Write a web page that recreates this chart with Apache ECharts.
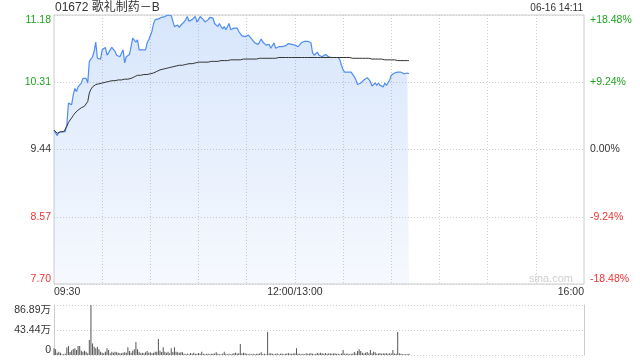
<!DOCTYPE html>
<html><head><meta charset="utf-8">
<script src="https://cdn.jsdelivr.net/npm/echarts@6/dist/echarts.min.js"></script>
<style>html,body{margin:0;padding:0;background:#fff}#c{width:640px;height:360px}</style>
</head><body><div id="c"></div>
<script>
const stockTitle = '01672 歌礼制药－B';
const stampText = '06-16 14:11';
const prevClose = 9.44;
const priceTicks = ['7.70', '8.57', '9.44', '10.31', '11.18'];
const pctTicks = ['-18.48%', '-9.24%', '0.00%', '+9.24%', '+18.48%'];
const volTicks = ['0', '43.44万', '86.89万'];
const xTickLabels = {0: '09:30', 150: '12:00/13:00', 330: '16:00'};

const price = [
9.69, 9.67, 9.62, 9.66, 9.67, 9.67, 9.68, 9.67, 9.76, 10.04,
10.06, 10.02, 10.15, 10.23, 10.19, 10.25, 10.27, 10.30, 10.36, 10.38,
10.36, 10.30, 10.58, 10.60, 10.64, 10.71, 10.83, 10.62, 10.60, 10.61,
10.73, 10.75, 10.76, 10.66, 10.69, 10.73, 10.76, 10.75, 10.71, 10.66,
10.64, 10.64, 10.62, 10.73, 10.56, 10.64, 10.65, 10.67, 10.77, 10.88,
10.86, 10.83, 10.86, 10.73, 10.75, 10.73, 10.75, 10.73, 10.82, 10.86,
10.88, 10.97, 11.07, 11.12, 11.13, 11.13, 11.14, 11.15, 11.16, 11.16,
11.17, 11.18, 11.18, 11.17, 11.10,
11.03, 11.01, 11.05, 11.02, 11.05, 11.07, 11.09, 11.12, 11.16, 11.10,
11.12, 11.12, 11.13, 11.16, 11.09, 11.12, 11.16, 11.14, 11.12, 11.09,
11.07, 11.12, 11.15, 11.16, 11.14, 11.07, 11.05, 11.03, 11.07, 11.03,
11.00, 11.03, 10.99, 11.01, 11.07, 10.99, 10.97, 11.01, 10.99, 11.01,
10.97, 10.94, 10.91, 10.90, 10.90, 10.89, 10.92, 10.90, 10.87, 10.86,
10.82, 10.80, 10.80, 10.83, 10.87, 10.83, 10.82, 10.79, 10.79, 10.80,
10.75, 10.77, 10.82, 10.75, 10.76, 10.77, 10.77, 10.77, 10.78, 10.78,
10.79, 10.81, 10.81, 10.80, 10.79,
10.79, 10.77, 10.77, 10.75, 10.82, 10.82, 10.84, 10.82, 10.84, 10.86,
10.82, 10.69, 10.66, 10.64, 10.70, 10.66, 10.64, 10.64, 10.65, 10.67,
10.65, 10.64, 10.63, 10.63, 10.63, 10.63, 10.63, 10.63, 10.60, 10.53,
10.47, 10.44, 10.44, 10.44, 10.44, 10.44, 10.43, 10.38, 10.34, 10.28,
10.27, 10.30, 10.32, 10.34, 10.35, 10.37, 10.38, 10.32, 10.26, 10.25,
10.30, 10.27, 10.30, 10.27, 10.28, 10.25, 10.30, 10.27, 10.30, 10.34,
10.40, 10.40, 10.43, 10.43, 10.44, 10.43, 10.44, 10.43, 10.42, 10.42,
10.43, 10.42
];

const avgPrice = [
9.69, 9.67, 9.65, 9.66, 9.67, 9.67, 9.67, 9.68, 9.74, 9.79,
9.82, 9.85, 9.88, 9.91, 9.93, 9.95, 9.96, 9.98, 9.99, 10.00,
10.02, 10.06,
10.17, 10.22, 10.25, 10.27, 10.28, 10.29, 10.29, 10.30, 10.30, 10.31,
10.31, 10.32, 10.32, 10.32, 10.33, 10.33, 10.33, 10.33, 10.34, 10.34,
10.34, 10.35, 10.35, 10.35, 10.35, 10.36, 10.36, 10.37, 10.38, 10.39,
10.40, 10.40, 10.40, 10.40, 10.41, 10.41, 10.41, 10.41, 10.42, 10.42,
10.43, 10.43, 10.45, 10.46, 10.47, 10.47, 10.48, 10.49, 10.49, 10.50,
10.50, 10.51, 10.51,
10.51, 10.52, 10.52, 10.53, 10.53, 10.53, 10.54, 10.54, 10.54, 10.55,
10.55, 10.55, 10.56, 10.56, 10.56, 10.57,
10.57, 10.57, 10.57, 10.57, 10.57, 10.57,
10.58, 10.58, 10.58, 10.58, 10.58, 10.58, 10.58,
10.59, 10.59, 10.59, 10.59, 10.59, 10.59,
10.60, 10.60, 10.60, 10.60, 10.60, 10.60, 10.60,
10.61, 10.61, 10.61, 10.61, 10.61, 10.61, 10.61, 10.61, 10.61, 10.61,
10.62, 10.62, 10.62, 10.62, 10.62, 10.62, 10.62, 10.62, 10.62, 10.62, 10.62, 10.62,
10.63, 10.63, 10.63, 10.63, 10.63, 10.63, 10.63, 10.63, 10.63, 10.63, 10.63,
10.63, 10.63, 10.63, 10.63, 10.63, 10.63, 10.63, 10.63, 10.63, 10.63,
10.63, 10.63, 10.63, 10.63, 10.63, 10.63, 10.63, 10.63, 10.63, 10.63,
10.63, 10.63, 10.63, 10.63, 10.63, 10.63, 10.63, 10.63, 10.63,
10.63, 10.63, 10.63, 10.63, 10.63, 10.63,
10.62, 10.62, 10.62, 10.62, 10.62, 10.62, 10.62,
10.62, 10.62, 10.62, 10.62, 10.62,
10.61, 10.61, 10.61, 10.61, 10.61, 10.61, 10.61, 10.61,
10.60, 10.60, 10.60, 10.60, 10.60, 10.60, 10.60, 10.60,
10.59, 10.59, 10.59, 10.59, 10.59, 10.59, 10.59, 10.59, 10.59
];

const volume = [
11.6, 9.8, 4, 5.8, 4, 1.5, 1.5, 2, 13, 15.6,
5, 8, 10.4, 11.6, 8.7, 15.6, 15.6, 7.5, 5.8, 7.5,
5.8, 3, 26, 86.89, 20, 14.5, 11.6, 14.5, 9.8, 5.8,
4, 3, 5.8, 11.6, 8.7, 3, 5.8, 4, 5.8, 4.6,
4, 3, 3, 4, 4.6, 4, 13.3, 7, 4, 7.5,
9.8, 22.6, 9.8, 5.8, 3, 4, 3, 4.6, 7, 4,
4.6, 3, 4, 5.8, 5.8, 27.8, 7.5, 5, 13.3, 5.8,
4, 5.8, 3, 11.6, 5, 13.3, 5.8, 4.6, 4, 4.6,
4.6, 2, 1.5, 2.5, 1.5, 3.5, 2, 4, 2, 2,
3.5, 2, 5.8, 2, 1.5, 2, 2, 1.5, 2, 2,
2.5, 4.6, 2, 1.5, 1.5, 2, 5.8, 2, 1.5, 2,
1.5, 2, 3, 4, 2.5, 3, 19, 2.5, 4, 3,
2, 1.5, 2, 1.5, 2, 1.5, 2, 2, 2.5, 4.6,
1.5, 2, 1.5, 40, 2.5, 3, 2, 1.5, 2, 2.5,
1.5, 2, 2.5, 1.5, 2, 2.5, 3, 2, 2, 2.5,
3, 11.6, 2, 2, 1.5, 2, 1.5, 3, 2, 2.5,
3, 2, 1.5, 2, 3.5, 2.5, 4, 3, 2, 3.5,
2, 2.5, 3, 2, 2.5, 3, 2, 2, 1.5, 2.5,
8.7, 2, 2, 2.5, 1.5, 2, 2, 5, 2.5, 7,
10, 7, 4, 2.5, 4, 5, 2.5, 8.7, 3, 5.8,
4.6, 2, 2.5, 3.5, 2, 3, 2.5, 3, 2, 3,
2.5, 8.7, 2.5, 2, 40, 3, 2, 1.5, 1.5, 1.5,
1.5, 2
];

const minutes = [];
function hhmm(t){ const h = Math.floor(t/60), m = t%60; return (h<10?'0':'')+h+':'+(m<10?'0':'')+m; }
for (let i = 0; i <= 330; i++) {
  if (i === 150) minutes.push('12:00/13:00');
  else minutes.push(hhmm(i < 150 ? 570 + i : 780 + (i - 150)));
}

const FONT = "'Liberation Sans', Arial, 'Noto Sans CJK SC', sans-serif";
const GREEN = '#1fa31f', RED = '#f03333', DARK = '#333';
const GRIDC = '#cfcfcf';
const DOT = {color: GRIDC, type: [1, 2], width: 1};
const pMin = 7.70, pMax = 11.18, pStep = 0.87;
function colorFor(v){ if (v > prevClose + 0.01) return GREEN; if (v < prevClose - 0.01) return RED; return DARK; }
function tIdx(v){ return Math.round((v - pMin) / pStep); }

const chart = echarts.init(document.getElementById('c'), null, {renderer: 'canvas'});
chart.setOption({
  animation: false,
  textStyle: {fontFamily: FONT},
  title: [
    {text: stockTitle, left: 55, top: 2, padding: 0, textStyle: {fontSize: 12, fontWeight: 'normal', color: '#333', fontFamily: FONT}},
    {text: stampText, right: 57, top: 3, padding: 0, textStyle: {fontSize: 10, fontWeight: 'normal', color: '#333', fontFamily: FONT}}
  ],
  graphic: [{type: 'text', right: 67, top: 273, silent: true, style: {text: 'sina.com', fill: '#d0d0d0', font: "11px 'Liberation Sans', Arial"}}],
  grid: [
    {left: 54, right: 56, top: 15, height: 269, show: true, borderColor: '#ccc', borderWidth: 1, backgroundColor: 'transparent'},
    {left: 54, right: 56, top: 305, height: 50}
  ],
  xAxis: [
    {type: 'category', gridIndex: 0, data: minutes, boundaryGap: false,
     axisLine: {show: false}, axisTick: {show: false},
     axisLabel: {interval: (i) => (i in xTickLabels), formatter: (v, i) => xTickLabels[i] || '', margin: 3, fontSize: 10.5, color: '#333', fontFamily: FONT,
                 alignMinLabel: 'left', alignMaxLabel: 'right', showMinLabel: true, showMaxLabel: true, hideOverlap: false},
     splitLine: {show: true, interval: (i) => i % 30 === 0 && i > 0 && i < 330, lineStyle: DOT}},
    {type: 'category', gridIndex: 1, data: minutes, boundaryGap: false,
     axisLine: {show: false}, axisTick: {show: false}, axisLabel: {show: false}, splitLine: {show: false}}
  ],
  yAxis: [
    {type: 'value', gridIndex: 0, min: pMin, max: pMax, interval: pStep, position: 'left',
     axisLine: {show: false}, axisTick: {show: false},
     axisLabel: {margin: 3, fontSize: 10.5, fontFamily: FONT, formatter: (v) => priceTicks[tIdx(v)], color: (v) => colorFor(v),
                 verticalAlignMinLabel: 'bottom', verticalAlignMaxLabel: 'top'},
     splitLine: {show: true, lineStyle: DOT}},
    {type: 'value', gridIndex: 0, min: pMin, max: pMax, interval: pStep, position: 'right',
     axisLine: {show: false}, axisTick: {show: false},
     axisLabel: {margin: 6, fontSize: 10.5, fontFamily: FONT, formatter: (v) => pctTicks[tIdx(v)], color: (v) => colorFor(v),
                 verticalAlignMinLabel: 'bottom', verticalAlignMaxLabel: 'top'},
     splitLine: {show: false}},
    {type: 'value', gridIndex: 1, min: 0, max: 86.89, interval: 43.445, position: 'left',
     axisLine: {show: true, lineStyle: {color: '#ccc'}}, axisTick: {show: false},
     axisLabel: {margin: 3, fontSize: 10.5, color: '#333', fontFamily: FONT, formatter: (v) => volTicks[Math.round(v / 43.445)],
                 verticalAlignMinLabel: 'bottom', verticalAlignMaxLabel: 'top'},
     splitLine: {show: true, lineStyle: DOT}},
    {type: 'value', gridIndex: 1, min: 0, max: 86.89, interval: 43.445, position: 'right',
     axisLine: {show: true, lineStyle: {color: '#ccc'}}, axisTick: {show: false}, axisLabel: {show: false}, splitLine: {show: false}}
  ],
  series: [
    {type: 'line', name: 'price', xAxisIndex: 0, yAxisIndex: 0, data: price, showSymbol: false, symbol: 'none',
     lineStyle: {color: '#4f8ef0', width: 1.2}, itemStyle: {color: '#4f8ef0'},
     areaStyle: {origin: 'start', color: {type: 'linear', x: 0, y: 0, x2: 0, y2: 1,
       colorStops: [{offset: 0, color: 'rgba(79,142,240,0.32)'}, {offset: 1, color: 'rgba(79,142,240,0.07)'}]}},
     z: 2},
    {type: 'line', name: 'avg', xAxisIndex: 0, yAxisIndex: 0, data: avgPrice, showSymbol: false, symbol: 'none',
     lineStyle: {color: '#333', width: 1}, itemStyle: {color: '#333'}, z: 3},
    {type: 'bar', name: 'vol', xAxisIndex: 1, yAxisIndex: 2, data: volume, barWidth: 1,
     itemStyle: {color: '#555'}}
  ]
});
</script>
</body></html>
